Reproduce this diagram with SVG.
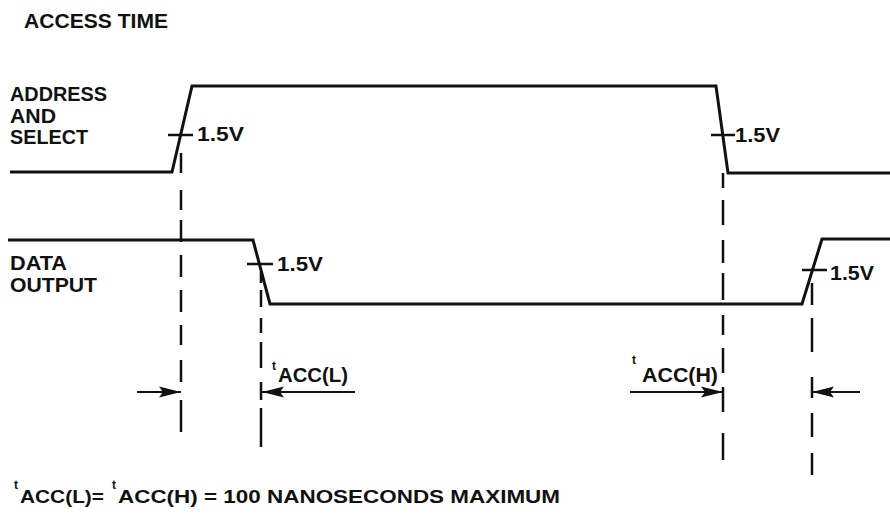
<svg xmlns="http://www.w3.org/2000/svg" width="890" height="517" viewBox="0 0 890 517">
  <style>
    .wave { fill: none; stroke: #111; stroke-width: 3; stroke-linejoin: miter; }
    .tick { fill: none; stroke: #111; stroke-width: 2.5; }
    .dash { fill: none; stroke: #111; stroke-width: 2.5; }
    .dim { fill: none; stroke: #111; stroke-width: 2.2; }
    .lbl { font-family: "Liberation Sans", Arial, sans-serif; font-weight: bold; fill: #111; }
    .big { font-size: 21px; }
    .mid { font-size: 19px; }
    .sup { font-size: 12px; }
  </style>
  <defs>
    <marker id="ah" viewBox="0 0 22 12" refX="22" refY="6" markerWidth="22" markerHeight="12" markerUnits="userSpaceOnUse" orient="auto">
      <polygon points="0,0.5 22,6 0,11.5 4,6" fill="#111"/>
    </marker>
  </defs>
  <rect width="890" height="517" fill="#fff"/>

  <text id="title" class="lbl big" x="24" y="28" textLength="144" lengthAdjust="spacingAndGlyphs">ACCESS TIME</text>

  <g id="address-label">
    <text class="lbl big" x="10" y="101" textLength="97" lengthAdjust="spacingAndGlyphs">ADDRESS</text>
    <text class="lbl big" x="10" y="123" textLength="46" lengthAdjust="spacingAndGlyphs">AND</text>
    <text class="lbl big" x="10" y="144" textLength="78" lengthAdjust="spacingAndGlyphs">SELECT</text>
  </g>
  <g id="data-label">
    <text class="lbl big" x="10" y="270" textLength="57" lengthAdjust="spacingAndGlyphs">DATA</text>
    <text class="lbl big" x="10" y="292" textLength="87" lengthAdjust="spacingAndGlyphs">OUTPUT</text>
  </g>

  <g id="address-wave">
    <path class="wave" d="M10,172 L172,172 L192,86 L716,86 L728,173 L890,173"/>
    <path class="tick" d="M168,135 H193 M711,135 H735"/>
    <text class="lbl big" x="197" y="141" textLength="47" lengthAdjust="spacingAndGlyphs">1.5V</text>
    <text class="lbl big" x="735" y="142" textLength="45" lengthAdjust="spacingAndGlyphs">1.5V</text>
  </g>

  <g id="data-wave">
    <path class="wave" d="M8,240 L253,240 L270,304 L802,304 L822,239 L890,239"/>
    <path class="tick" d="M247,264 H273 M802,270 H827"/>
    <text class="lbl big" x="277" y="271" textLength="46" lengthAdjust="spacingAndGlyphs">1.5V</text>
    <text class="lbl big" x="830" y="280" textLength="44" lengthAdjust="spacingAndGlyphs">1.5V</text>
  </g>

  <g id="connectors">
    <path class="dash" d="M181,153 V173 M181,190 V210 M181,220 V242 M181,255 V277 M181,290 V312 M181,325 V345 M181,360 V382 M181,400 V432"/>
    <path class="dash" d="M261,272 V283 M261,290 V307 M261,318 V333 M261,342 V368 M261,382 V400 M261,408 V447"/>
    <path class="dash" d="M723,173 V188 M723,200 V225 M723,240 V263 M723,273 V300 M723,315 V335 M723,348 V373 M723,387 V412 M723,433 V460"/>
    <path class="dash" d="M812,283 V305 M812,318 V352 M812,377 V398 M812,413 V437 M812,453 V475"/>
    <path class="dim" d="M137,392 H181" marker-end="url(#ah)"/>
    <path class="dim" d="M355,392 H262" marker-end="url(#ah)"/>
    <path class="dim" d="M630,392 H723" marker-end="url(#ah)"/>
    <path class="dim" d="M860,392 H812" marker-end="url(#ah)"/>
  </g>

  <g id="tacc-l">
    <text class="lbl sup" x="272" y="370">t</text>
    <text class="lbl big" x="278" y="382" textLength="70" lengthAdjust="spacingAndGlyphs">ACC(L)</text>
  </g>
  <g id="tacc-h">
    <text class="lbl sup" x="632" y="364">t</text>
    <text class="lbl big" x="642" y="382" textLength="76" lengthAdjust="spacingAndGlyphs">ACC(H)</text>
  </g>

  <g id="footnote">
    <text class="lbl sup" x="14" y="489">t</text>
    <text class="lbl mid" x="20" y="503" textLength="84" lengthAdjust="spacingAndGlyphs">ACC(L)=</text>
    <text class="lbl sup" x="112" y="489">t</text>
    <text class="lbl mid" x="118" y="503" textLength="442" lengthAdjust="spacingAndGlyphs">ACC(H) = 100 NANOSECONDS MAXIMUM</text>
  </g>
</svg>
